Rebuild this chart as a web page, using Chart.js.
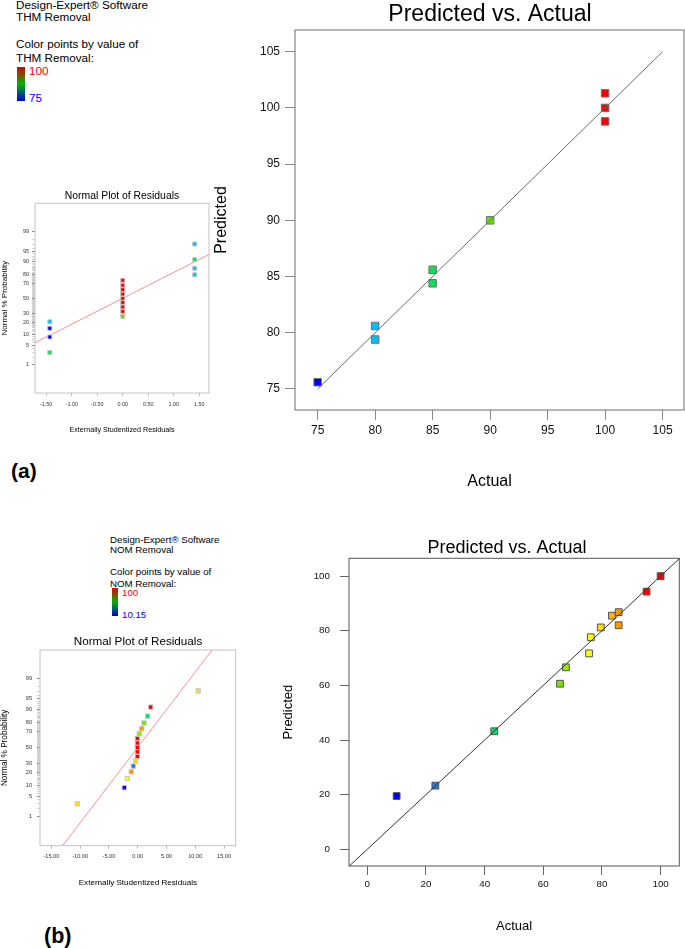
<!DOCTYPE html>
<html>
<head>
<meta charset="utf-8">
<script src="https://cdn.jsdelivr.net/npm/chart.js@4.4.1/dist/chart.umd.min.js"></script>
<style>
  body { margin: 0; background: #fff; }
  #fig { position: relative; width: 685px; height: 948px; overflow: hidden; font-family: "Liberation Sans", Arial, sans-serif; color: #000; }
  #fig canvas { position: absolute; }
  .t { position: absolute; white-space: nowrap; line-height: 1; }
  .bar { position: absolute; background: linear-gradient(to bottom, #e00000, #00b400 50%, #0000e0); }
</style>
</head>
<body>
<div id="fig">
  <!-- (a) THM removal header -->
  <div class="t" style="left:16px;top:-0.9px;font-size:11.7px">Design-Expert® Software</div>
  <div class="t" style="left:16px;top:11.4px;font-size:11.7px">THM Removal</div>
  <div class="t" style="left:16px;top:38.4px;font-size:11.7px">Color points by value of</div>
  <div class="t" style="left:16px;top:52.4px;font-size:11.7px">THM Removal:</div>
  <div class="bar" style="left:17px;top:67px;width:8px;height:34px"></div>
  <div class="t" style="left:29px;top:65.1px;font-size:11.7px;color:#ff0000">100</div>
  <div class="t" style="left:29px;top:92.1px;font-size:11.7px;color:#0000ff">75</div>
  <div class="t" style="left:11px;top:459.5px;font-size:21px;font-weight:bold">(a)</div>

  <!-- (b) NOM removal header -->
  <div class="t" style="left:110px;top:535.1px;font-size:9.7px">Design-Expert® Software</div>
  <div class="t" style="left:110px;top:545.4px;font-size:9.7px">NOM Removal</div>
  <div class="t" style="left:110px;top:567.4px;font-size:9.7px">Color points by value of</div>
  <div class="t" style="left:110px;top:578.8px;font-size:9.7px">NOM Removal:</div>
  <div class="bar" style="left:111.7px;top:588.3px;width:6.6px;height:27.7px"></div>
  <div class="t" style="left:122px;top:588.4px;font-size:9.7px;color:#ff0000">100</div>
  <div class="t" style="left:122px;top:610.1px;font-size:9.7px;color:#0000ff">10.15</div>
  <div class="t" style="left:44px;top:926px;font-size:21.5px;font-weight:bold">(b)</div>

  <canvas id="thmNormal" width="244" height="260" style="left:0;top:180px"></canvas>
  <canvas id="thmPva" width="580" height="500" style="left:200px;top:0"></canvas>
  <canvas id="nomNormal" width="276" height="280" style="left:0;top:620px"></canvas>
  <canvas id="nomPva" width="474" height="418" style="left:270px;top:530px"></canvas>
</div>

<script>
// ---- THM removal (a) ----
const thmRange = [75, 100];
const thmActual = [75, 80, 80, 85, 85, 90, 100, 100, 100];
const thmPredicted = [75.6, 80.6, 79.4, 85.6, 84.4, 90.0, 101.3, 100.0, 98.8];
const thmDiagonal = [75, 105];
const thmTicks = [75, 80, 85, 90, 95, 100, 105];

const thmResidual = [-1.43, -1.43, -1.43, -1.43, 0, 0, 0, 0, 0, 0, 0, 0, 0, 1.41, 1.41, 1.41, 1.41];
const thmProb = [2.9, 8.8, 14.7, 20.6, 26.5, 32.4, 38.2, 44.1, 50.0, 55.9, 61.8, 67.6, 73.5, 79.4, 85.3, 91.2, 97.1];
const thmRunValue = [85, 75, 75, 80, 90, 100, 100, 100, 100, 100, 100, 100, 100, 80, 80, 85, 80];
const thmFitResidual = [-1.72, 1.69];
const thmFitProb = [6.0, 93.7];
const thmResTicks = [-1.5, -1.0, -0.5, 0, 0.5, 1.0, 1.5];

// ---- NOM removal (b) ----
const nomRange = [10.15, 100];
const nomActual = [10.0, 23.2, 43.3, 65.7, 67.7, 75.6, 76.2, 79.6, 83.4, 85.7, 85.7, 95.2, 100];
const nomPredicted = [19.5, 23.3, 43.2, 60.6, 66.6, 71.7, 77.6, 81.2, 85.5, 86.8, 82.0, 94.3, 100];
const nomDiagonal = [-6.3, 106.5];
const nomTicks = [0, 20, 40, 60, 80, 100];

const nomResidual = [-10.49, -2.32, -1.80, -1.11, -0.76, -0.34, -0.05, -0.05, -0.05, -0.05, -0.05, 0.28, 0.70, 1.10, 1.74, 2.26, 10.53];
const nomProb = [2.9, 8.8, 14.7, 20.6, 26.5, 32.4, 38.2, 44.1, 50.0, 55.9, 61.8, 67.6, 73.5, 79.4, 85.3, 91.2, 97.1];
const nomRunValue = [79.6, 10.0, 76.2, 85.7, 23.2, 79.6, 100, 100, 100, 100, 100, 67.7, 85.7, 65.7, 43.3, 95.2, 79.6];
const nomFitResidual = [-13.0, 13.0];
const nomFitProb = [0.05, 99.95];
const nomResTicks = [-15, -10, -5, 0, 5, 10, 15];

// normal probability axis
const probTicks = [];
for (let p = 1; p <= 99; p++) probTicks.push(p);
const probLabels = [1, 5, 10, 20, 30, 50, 70, 80, 90, 95, 99];

const FONT = '"Liberation Sans", Arial, sans-serif';
Chart.defaults.font.family = FONT;
Chart.defaults.color = '#000';

// inverse normal CDF (Acklam)
function probit(p) {
    const a = [-3.969683028665376e+01, 2.209460984245205e+02, -2.759285104469687e+02, 1.383577518672690e+02, -3.066479806614716e+01, 2.506628277459239e+00];
    const b = [-5.447609879822406e+01, 1.615858368580409e+02, -1.556989798598866e+02, 6.680131188771972e+01, -1.328068155288572e+01];
    const c = [-7.784894002430293e-03, -3.223964580411365e-01, -2.400758277161838e+00, -2.549732539343734e+00, 4.374664141464968e+00, 2.938163982698783e+00];
    const d = [7.784695709041462e-03, 3.224671290700398e-01, 2.445134137142996e+00, 3.754408661907416e+00];
    const lo = 0.02425;
    if (p < lo || p > 1 - lo) {
        const q = Math.sqrt(-2 * Math.log(p < lo ? p : 1 - p));
        const z = (((((c[0] * q + c[1]) * q + c[2]) * q + c[3]) * q + c[4]) * q + c[5]) /
            ((((d[0] * q + d[1]) * q + d[2]) * q + d[3]) * q + 1);
        return p < lo ? z : -z;
    }
    const q = p - 0.5, r = q * q;
    return (((((a[0] * r + a[1]) * r + a[2]) * r + a[3]) * r + a[4]) * r + a[5]) * q /
        (((((b[0] * r + b[1]) * r + b[2]) * r + b[3]) * r + b[4]) * r + 1);
}

// Design-Expert style colour ramp (blue -> cyan -> green -> yellow -> orange -> red)
const colorStops = [
    [0, '#0000ff'], [0.15, '#1e7bff'], [0.2, '#00c0ff'], [0.38, '#00e060'], [0.6, '#60e000'],
    [0.73, '#ffff00'], [0.79, '#ffd000'], [0.84, '#ff9a00'], [0.93, '#ff0000'], [1, '#ff0000']
];
function hexRgb(h) { return [1, 3, 5].map(i => parseInt(h.slice(i, i + 2), 16)); }
function colorFor(v, range) {
    const t = Math.min(1, Math.max(0, (v - range[0]) / (range[1] - range[0])));
    for (let i = 1; i < colorStops.length; i++) {
        const [t1, c1] = colorStops[i];
        const [t0, c0] = colorStops[i - 1];
        if (t <= t1) {
            const f = (t - t0) / (t1 - t0 || 1);
            const a = hexRgb(c0), b = hexRgb(c1);
            return `rgb(${a.map((x, k) => Math.round(x + (b[k] - x) * f)).join(',')})`;
        }
    }
    return colorStops[colorStops.length - 1][1];
}

// box around the plot area
Chart.register({
    id: 'frame',
    beforeDatasetsDraw(chart, args, opts) {
        const a = chart.chartArea;
        const ctx = chart.ctx;
        ctx.save();
        ctx.strokeStyle = opts.color || '#666';
        ctx.lineWidth = 1;
        ctx.strokeRect(a.left, a.top, a.right - a.left, a.bottom - a.top);
        ctx.restore();
    }
});

const fixWidth = w => scale => { scale.width = w; };
const fixHeight = h => scale => { scale.height = h; };
const setTicks = vals => scale => { scale.ticks = vals.map(v => ({ value: v })); };
const spacer = w => ({
    position: 'right', display: true,
    ticks: { display: false }, grid: { display: false }, border: { display: false },
    afterFit: fixWidth(w)
});

function pointSet(xs, ys, values, range, radius, border) {
    return {
        data: xs.map((x, i) => ({ x, y: ys[i] })),
        pointStyle: 'rect',
        pointRadius: radius,
        pointHoverRadius: radius,
        pointBackgroundColor: values.map(v => colorFor(v, range)),
        pointBorderColor: border,
        pointBorderWidth: 1
    };
}

function lineSet(xs, ys, color) {
    return {
        data: xs.map((x, i) => ({ x, y: ys[i] })),
        showLine: true,
        borderColor: color,
        borderWidth: 1,
        pointRadius: 0,
        fill: false
    };
}

const baseOptions = {
    responsive: false,
    animation: false,
    events: [],
    plugins: { legend: { display: false }, tooltip: { enabled: false } }
};

function predictedVsActual(id, cfg) {
    new Chart(document.getElementById(id), {
        type: 'scatter',
        data: {
            datasets: [
                lineSet(cfg.diagonal, cfg.diagonal, cfg.lineColor),
                pointSet(cfg.actual, cfg.predicted, cfg.actual, cfg.range, cfg.radius, cfg.pointBorder)
            ]
        },
        options: {
            ...baseOptions,
            plugins: {
                ...baseOptions.plugins,
                frame: { color: cfg.frameColor },
                title: {
                    display: true, text: 'Predicted vs. Actual', color: '#000',
                    font: { size: cfg.titleSize, weight: 'normal', lineHeight: 1.1 },
                    padding: cfg.titlePad
                }
            },
            scales: {
                x: {
                    min: cfg.xMin, max: cfg.xMax,
                    afterBuildTicks: setTicks(cfg.ticks),
                    afterFit: fixHeight(cfg.xHeight),
                    border: { display: false },
                    grid: { drawOnChartArea: false, tickLength: cfg.tickLen, tickColor: cfg.tickColor },
                    ticks: { font: { size: cfg.tickSize }, padding: cfg.xTickPad, color: '#111' },
                    title: { display: true, text: 'Actual', font: { size: cfg.axisTitleSize }, padding: { bottom: cfg.xTitlePad } }
                },
                y: {
                    min: cfg.yMin, max: cfg.yMax,
                    afterBuildTicks: setTicks(cfg.ticks),
                    afterFit: fixWidth(cfg.yWidth),
                    border: { display: false },
                    grid: { drawOnChartArea: false, tickLength: cfg.tickLen, tickColor: cfg.tickColor },
                    ticks: { font: { size: cfg.tickSize }, padding: cfg.yTickPad, color: '#111' },
                    title: { display: true, text: 'Predicted', font: { size: cfg.axisTitleSize }, padding: { top: cfg.yTitlePad } }
                },
                y2: spacer(cfg.rightSpace)
            }
        }
    });
}

function normalPlot(id, cfg) {
    new Chart(document.getElementById(id), {
        type: 'scatter',
        data: {
            datasets: [
                pointSet(cfg.residual, cfg.prob.map(p => probit(p / 100)), cfg.runValue, cfg.range, cfg.radius, '#c8c8c8'),
                lineSet(cfg.fitResidual, cfg.fitProb.map(p => probit(p / 100)), '#ff9090')
            ]
        },
        options: {
            ...baseOptions,
            plugins: {
                ...baseOptions.plugins,
                frame: { color: '#c4c4c4' },
                title: {
                    display: true, text: 'Normal Plot of Residuals', color: '#000',
                    font: { size: cfg.titleSize, weight: 'normal', lineHeight: 1.2 },
                    padding: cfg.titlePad
                }
            },
            scales: {
                x: {
                    min: cfg.xMin, max: cfg.xMax,
                    afterBuildTicks: setTicks(cfg.ticks),
                    afterFit: fixHeight(cfg.xHeight),
                    border: { display: false },
                    grid: { drawOnChartArea: false, tickLength: 3, tickColor: '#bbbbbb' },
                    ticks: { font: { size: cfg.tickSize }, padding: cfg.xTickPad, color: '#333', callback: v => v.toFixed(2) },
                    title: { display: true, text: 'Externally Studentized Residuals', font: { size: cfg.xTitleSize }, padding: { bottom: cfg.xTitlePad } }
                },
                y: {
                    min: cfg.yMin, max: cfg.yMax,
                    afterBuildTicks: s => { s.ticks = probTicks.map(p => ({ value: probit(p / 100) })); },
                    afterFit: fixWidth(cfg.yWidth),
                    border: { display: false },
                    grid: {
                        drawOnChartArea: false, tickLength: 3,
                        tickColor: c => probLabels.includes(probTicks[c.index]) ? '#888888' : '#d4d4d4'
                    },
                    ticks: {
                        autoSkip: false, font: { size: cfg.tickSize }, padding: cfg.yTickPad, color: '#333',
                        callback: (v, i) => probLabels.includes(probTicks[i]) ? String(probTicks[i]) : ''
                    },
                    title: { display: true, text: 'Normal % Probability', font: { size: cfg.yTitleSize }, padding: { top: 0.2 } }
                },
                y2: spacer(cfg.rightSpace)
            }
        }
    });
}

normalPlot('thmNormal', {
    residual: thmResidual, prob: thmProb, runValue: thmRunValue, range: thmRange,
    fitResidual: thmFitResidual, fitProb: thmFitProb, ticks: thmResTicks,
    xMin: -1.72, xMax: 1.69, yMin: -3.31, yMax: 3.32,
    radius: 2.9, titleSize: 10.4, titlePad: { top: 9.8, bottom: 1.0 },
    tickSize: 5.4, xTickPad: 5, yTickPad: 3, xHeight: 47, yWidth: 35, rightSpace: 35,
    xTitleSize: 7.2, xTitlePad: 5.7, yTitleSize: 8
});

predictedVsActual('thmPva', {
    actual: thmActual, predicted: thmPredicted, diagonal: thmDiagonal, ticks: thmTicks, range: thmRange,
    xMin: 73.03, xMax: 106.86, yMin: 73.13, yMax: 106.93,
    radius: 5.3, pointBorder: '#707070', lineColor: '#6a6a6a', frameColor: '#6e6e6e',
    titleSize: 23, titlePad: { top: 2.35, bottom: 2.35 },
    tickSize: 12, tickLen: 10, tickColor: '#888888', xTickPad: 3.8, yTickPad: 5,
    xHeight: 90, yWidth: 95, rightSpace: 96,
    axisTitleSize: 16, xTitlePad: 8.4, yTitlePad: 12.4
});

normalPlot('nomNormal', {
    residual: nomResidual, prob: nomProb, runValue: nomRunValue, range: nomRange,
    fitResidual: nomFitResidual, fitProb: nomFitProb, ticks: nomResTicks,
    xMin: -16.97, xMax: 17.03, yMin: -3.30, yMax: 3.27,
    radius: 3.1, titleSize: 11.7, titlePad: { top: 14.7, bottom: 1.26 },
    tickSize: 5.6, xTickPad: 4.6, yTickPad: 5, xHeight: 54.3, yWidth: 40, rightSpace: 40.3,
    xTitleSize: 8.1, xTitlePad: 12.4, yTitleSize: 8.2
});

predictedVsActual('nomPva', {
    actual: nomActual, predicted: nomPredicted, diagonal: nomDiagonal, ticks: nomTicks, range: nomRange,
    xMin: -6.24, xMax: 106.37, yMin: -6.11, yMax: 106.5,
    radius: 4.8, pointBorder: '#555555', lineColor: '#333333', frameColor: '#555555',
    titleSize: 18, titlePad: { top: 8.1, bottom: 0.4 },
    tickSize: 9.8, tickLen: 9, tickColor: '#666666', xTickPad: 3, yTickPad: 10,
    xHeight: 82, yWidth: 79, rightSpace: 64.7,
    axisTitleSize: 13, xTitlePad: 14.2, yTitlePad: 10.5
});
</script>
</body>
</html>
